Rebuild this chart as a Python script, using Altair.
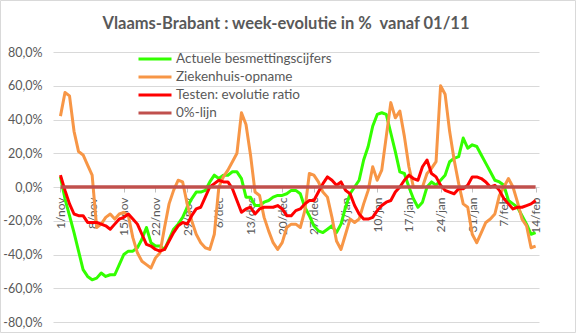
import altair as alt
import pandas as pd

# ---- data ----
tick_labels = ["1/nov", "8/nov", "15/nov", "22/nov", "29/nov", "6/dec", "13/dec",
               "20/dec", "27/dec", "3/jan", "10/jan", "17/jan", "24/jan", "31/jan",
               "7/feb", "14/feb"]

series_names = ["Actuele besmettingscijfers", "Ziekenhuis-opname",
                "Testen: evolutie ratio", "0%-lijn"]
series_colors = ["#33ff00", "#f79646", "#ff0000", "#c0504d"]

# day 0 = 1/nov ... day 105 = 14/feb ; values in %
green = [6, -7, -17, -27, -38, -49, -53, -55, -54, -51,
         -53, -52, -52, -46, -40, -38, -38, -36, -31, -24,
         -33, -35, -35, -37, -31, -25, -22, -18, -12, -7,
         -3, -3, -2, 3, 7, 5, 7, 7, 9, 9,
         5, -6, -6, -11, -11, -9, -8, -6, -5, -5,
         -4, -2, -2, -4, -12, -17, -23, -26, -27, -25,
         -23, -27, -22, -12, -4, 0, 4, 16, 24, 36,
         43, 44, 43, 32, 21, 9, 8, 0, -7, -12,
         -9, 0, 3, 1, 4, 7, 15, 17, 18, 29,
         23, 25, 24, 19, 14, 9, 4, 3, 1, -8,
         -10, -12, -17, -22, -28, -27]

orange = [42, 56, 54, 33, 21, 19, 13, 7, -24, -22,
          -18, -16, -19, -16, -15, -17, -30, -39, -44, -46,
          -48, -42, -39, -24, -10, -2, 4, 3, -10, -20,
          -28, -33, -36, -37, -28, 0, 6, 10, 15, 20,
          44, 37, 19, -3, -5, -18, -26, -33, -37, -33,
          -24, -22, -22, -24, -14, 8, 7, 3, -3, -6,
          -18, -32, -37, -28, -19, -21, -19, -10, -2, 12,
          4, 10, 30, 50, 41, 45, 30, 12, 0, 0,
          0, 8, 11, 15, 60, 55, 33, 16, 2, -10,
          -12, -28, -33, -27, -21, -19, -16, -5, 0, 5,
          0, -9, -19, -23, -36, -35]

red = [7, -2, -10, -16, -17, -17, -21, -21, -21, -22,
       -23, -25, -22, -19, -18, -16, -19, -22, -28, -34,
       -35, -37, -38, -37, -32, -27, -23, -21, -22, -17,
       -13, -12, -6, 0, 2, 4, 3, 3, -1, -8,
       -15, -13, -12, -16, -13, -12, -12, -12, -11, -13,
       -17, -17, -14, -13, -10, -8, -8, -3, 2, 6,
       4, 1, 3, -2, -4, -11, -16, -19, -19, -18,
       -14, -11, -9, -8, -3, 0, 4, 7, 5, 4,
       12, 16, 8, 6, 1, -2, -3, -4, -1, -1,
       1, 6, 6, 5, 3, 0, 1, -2, -7, -10,
       -13, -12, -12, -11, -10, -8]

zero = [0] * len(green)

days = list(range(len(green)))
rows = []
for name, vals in zip(series_names, [green, orange, red, zero]):
    for d, v in zip(days, vals):
        rows.append({"day": d, "value": v, "series": name})
df = pd.DataFrame(rows)

W, H = 486, 270
grey = "#595959"
font = "Lato"

x_scale = alt.Scale(domain=[-1.65, 105.75], nice=False, zero=False)
y_scale = alt.Scale(domain=[-80, 80], nice=False)
color_scale = alt.Scale(domain=series_names, range=series_colors)

label_array = "[" + ",".join("'" + t + "'" for t in tick_labels) + "]"

x_axis = alt.Axis(values=[7 * i for i in range(len(tick_labels))],
                  labelExpr=label_array + "[round(datum.value/7)]",
                  labelAngle=270, labelAlign="right", labelBaseline="middle",
                  labelPadding=5, tickSize=5, tickColor="#bfbfbf",
                  domain=False, grid=False, offset=-135, title=None,
                  labelFont=font, labelFontSize=12, labelColor=grey)
y_axis = alt.Axis(values=[-80, -60, -40, -20, 0, 20, 40, 60, 80],
                  labelExpr="(datum.value < 0 ? '-' : '') + replace(format(abs(datum.value), '.1f'), '.', ',') + '%'",
                  domain=False, ticks=False, grid=True, gridColor="#d9d9d9",
                  labelPadding=11, title=None,
                  labelFont=font, labelFontSize=12.5, labelColor=grey)

legend = alt.Legend(title=None, orient="none", legendX=84, legendY=-2,
                    symbolType="stroke", symbolStrokeWidth=3, symbolSize=1089,
                    clipHeight=18,
                    labelFont=font, labelFontSize=13.5, labelColor=grey,
                    rowPadding=0, padding=0, labelOffset=3)

base = alt.Chart(df)

def series_layer(name, width=3):
    enc = dict(
        x=alt.X("day:Q", scale=x_scale, axis=x_axis),
        y=alt.Y("value:Q", scale=y_scale, axis=y_axis),
        color=alt.Color("series:N", scale=color_scale, legend=legend),
    )
    return base.transform_filter(alt.datum.series == name).mark_line(
        strokeWidth=width, strokeJoin="round").encode(**enc)

layers = [series_layer(series_names[0]),
          series_layer(series_names[1]),
          series_layer(series_names[2]),
          series_layer(series_names[3], width=3.5)]

title = alt.Chart(pd.DataFrame({"t": ["Vlaams-Brabant : week-evolutie in %\u00a0 vanaf 01/11"]})).mark_text(
    font=font, fontSize=16.5, fontWeight="bold", color=grey, align="center", baseline="middle"
).encode(text="t:N", x=alt.value(233), y=alt.value(-28))

frame = alt.Chart(pd.DataFrame({"a": [0]})).mark_rect(
    fill=None, stroke="#d9d9d9", strokeWidth=1
).encode(x=alt.value(-52.5), x2=alt.value(522.5), y=alt.value(-51.5), y2=alt.value(280.5))

chart = alt.layer(*layers, title, frame).properties(
    width=W, height=H,
    autosize=alt.AutoSizeParams(type="none"),
    padding={"left": 53, "top": 52, "right": 37, "bottom": 11},
    background="white",
).configure_view(stroke=None)

chart.save("out.html", embed_options={"renderer": "svg", "actions": False})
